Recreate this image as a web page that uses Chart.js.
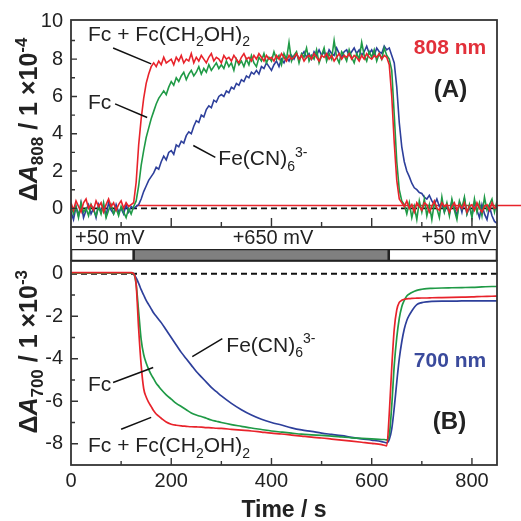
<!DOCTYPE html>
<html>
<head>
<meta charset="utf-8">
<script src="https://cdn.jsdelivr.net/npm/chart.js@4.4.1/dist/chart.umd.min.js"></script>
<style>
  body { margin: 0; background: #fff; }
  #wrap { position: relative; width: 521px; height: 521px; }
  #wrap canvas { position: absolute; left: 0; top: 0; }
</style>
</head>
<body>
<div id="wrap">
  <canvas id="cB" width="521" height="521"></canvas>
  <canvas id="cV" width="521" height="521"></canvas>
  <canvas id="cA" width="521" height="521"></canvas>
</div>
<script>
// ---- data: panel (A), 808 nm, time every 5 s ----
const tA = [
  0, 5, 10, 15, 20, 25, 30, 35, 40, 45,
  50, 55, 60, 65, 70, 75, 80, 85, 90, 95,
  100, 105, 110, 115, 120, 125, 130, 135, 140, 145,
  150, 155, 160, 165, 170, 175, 180, 185, 190, 195,
  200, 205, 210, 215, 220, 225, 230, 235, 240, 245,
  250, 255, 260, 265, 270, 275, 280, 285, 290, 295,
  300, 305, 310, 315, 320, 325, 330, 335, 340, 345,
  350, 355, 360, 365, 370, 375, 380, 385, 390, 395,
  400, 405, 410, 415, 420, 425, 430, 435, 440, 445,
  450, 455, 460, 465, 470, 475, 480, 485, 490, 495,
  500, 505, 510, 515, 520, 525, 530, 535, 540, 545,
  550, 555, 560, 565, 570, 575, 580, 585, 590, 595,
  600, 605, 610, 615, 620, 625, 630, 635, 640, 645,
  650, 655, 660, 665, 670, 675, 680, 685, 690, 695,
  700, 705, 710, 715, 720, 725, 730, 735, 740, 745,
  750, 755, 760, 765, 770, 775, 780, 785, 790, 795,
  800, 805, 810, 815, 820, 825, 830, 835, 840, 845,
  850
];
// Fc + Fc(CH2OH)2
const redA = [
  0.3, -0.1, 0.4, 0.1, -0.2, 0.3, 0.5, 0.0, 0.2, -0.1,
  0.4, 0.1, 0.3, -0.2, 0.2, 0.5, 0.1, 0.3, -0.1, 0.2,
  0.4, 0.0, 0.3, 0.1, 0.2, 0.3, 1.4, 3.4, 4.8, 5.9,
  6.7, 7.2, 7.6, 7.8, 7.6, 7.9, 7.7, 8.1, 7.8, 7.9,
  8.0, 7.7, 8.1, 7.9, 8.2, 7.8, 8.0, 7.9, 8.3, 7.8,
  8.1, 7.9, 8.2, 8.0, 7.8, 8.1, 8.3, 7.9, 8.1, 8.0,
  7.8, 8.2, 8.0, 8.1, 7.9, 8.2, 8.0, 7.8, 8.1, 8.3,
  8.0, 8.1, 7.9, 8.2, 8.0, 8.3, 8.1, 7.9, 8.2, 8.0,
  8.1, 7.9, 8.2, 8.0, 8.3, 8.1, 7.9, 8.2, 8.0, 8.1,
  8.3, 8.0, 8.2, 7.9, 8.1, 8.2, 8.0, 8.3, 8.1, 7.9,
  8.2, 8.1, 8.3, 8.0, 8.2, 7.9, 8.1, 8.3, 8.0, 8.2,
  8.1, 8.3, 8.0, 8.2, 8.1, 7.9, 8.2, 8.0, 8.3, 8.1,
  8.0, 8.2, 8.1, 8.3, 8.0, 8.2, 8.1, 7.7, 6.0, 3.5,
  1.5, 0.5, 0.3, 0.1, 0.4, 0.0, 0.2, -0.2, 0.3, 0.1,
  -0.1, 0.3, 0.2, -0.2, 0.1, 0.4, 0.0, -0.1, 0.3, 0.1,
  0.2, -0.2, 0.1, 0.3, -0.1, 0.2, 0.0, 0.3, -0.2, 0.1,
  0.2, -0.1, 0.3, 0.0, -0.2, 0.1, 0.2, -0.1, 0.3, 0.0,
  0.1
];
// Fc
const greenA = [
  0.2, -0.3, 0.1, -0.5, 0.3, -0.2, 0.0, -0.4, 0.2, -0.1,
  -0.4, 0.1, -0.3, 0.3, -0.5, -0.1, 0.2, -0.3, 0.0, -0.4,
  0.1, -0.2, -0.5, 0.0, -0.3, 0.1, 0.4, 1.2, 2.3, 3.1,
  3.8, 4.3, 4.8, 5.2, 5.6, 5.9, 6.1, 6.3, 6.1, 6.5,
  6.8, 6.6, 7.0, 6.8, 7.1, 7.3, 6.9, 7.2, 7.4, 7.1,
  7.3, 7.6, 7.2, 7.5, 7.3, 7.7, 7.4, 7.6, 7.8, 7.5,
  7.7, 7.5, 7.9, 7.6, 7.8, 7.4, 8.0, 7.7, 7.9, 7.6,
  8.0, 7.7, 8.2, 7.8, 7.6, 8.1, 7.9, 8.3, 7.8, 8.1,
  7.9, 8.4, 8.0, 8.2, 7.7, 8.3, 8.0, 8.9, 7.9, 8.2,
  8.4, 7.8, 8.3, 8.1, 8.6, 7.9, 8.2, 8.0, 8.5, 7.8,
  8.2, 8.6, 7.9, 8.3, 8.0, 9.0, 8.1, 7.8, 8.4, 8.2,
  7.9, 8.5, 8.1, 7.8, 8.3, 8.0, 8.9, 8.2, 7.9, 8.4,
  8.1, 8.5, 7.9, 8.3, 8.0, 8.6, 8.2, 8.0, 7.4, 5.0,
  2.5, 1.0, 0.4, 0.2, -0.3, 0.3, -0.5, 0.1, -0.6, 0.4,
  -0.2, 0.5, -0.4, 0.2, -0.6, 0.3, 0.0, -0.5, 0.6, -0.2,
  0.3, -0.4, 0.5, -0.1, -0.6, 0.4, 0.0, 0.6, -0.3, 0.2,
  -0.5, 0.5, -0.2, 0.3, -0.4, 0.6, -0.1, 0.2, 0.5, -0.2,
  0.4
];
// Fe(CN)6 3-
const blueA = [
  -0.2, -0.6, 0.1, -0.4, 0.3, -0.5, -0.1, 0.2, -0.3, 0.0,
  -0.5, 0.2, -0.2, 0.1, -0.4, 0.3, -0.1, -0.3, 0.2, -0.2,
  0.0, -0.3, 0.2, -0.2, 0.1, 0.0, 0.1, 0.2, 0.5, 0.9,
  1.2, 1.5, 1.7, 1.9, 2.2, 2.1, 2.5, 2.8, 2.6, 3.0,
  3.1, 2.9, 3.4, 3.3, 3.6, 3.5, 3.9, 4.1, 4.0, 4.4,
  4.7, 4.6, 5.0, 4.9, 5.3, 5.5, 5.4, 5.8, 5.7, 6.0,
  6.1, 6.0, 6.3, 6.2, 6.5, 6.4, 6.7, 6.6, 6.9, 6.8,
  7.1, 7.0, 7.3, 7.2, 7.4, 7.2, 7.6, 7.5, 7.8, 7.6,
  7.4, 7.7, 7.9, 7.6, 8.0, 7.8, 8.1, 7.9, 8.2, 8.0,
  8.3, 8.0, 8.2, 8.4, 8.1, 8.3, 8.0, 8.4, 8.2, 8.5,
  8.2, 8.4, 8.1, 8.5, 8.3, 8.2, 8.6, 8.3, 8.1, 8.4,
  8.5, 8.2, 8.4, 8.6, 8.3, 8.5, 8.2, 8.4, 8.7, 8.3,
  8.5, 8.2, 8.6, 8.4, 8.3, 8.7, 8.5, 8.6, 8.2, 7.8,
  6.5, 4.6, 3.3, 2.5, 2.0, 1.7, 1.35, 1.1, 1.0, 0.85,
  0.8, 0.6, 0.5, 0.7, 0.4, 0.2, 0.5, 0.1, 0.3, -0.2,
  0.2, -0.3, 0.4, 0.0, -0.4, 0.3, -0.2, 0.5, -0.3, 0.1,
  -0.4, 0.3, -0.1, -0.5, 0.2, -0.3, -0.6, 0.1, -0.4, -0.7,
  -0.8
];
// reference lines in (A)
const zeroT = [0, 850];
const zeroV = [0, 0];
const baseT = [130, 900];
const baseV = [0.15, 0.15];

// ---- data: panel (B), 700 nm ----
const tB = [
  0, 20, 40, 60, 80, 100, 115, 120,
  125, 130, 135, 140, 145, 150, 155, 160, 165, 170, 175, 180,
  190, 200, 210, 220, 230, 240, 250, 260, 270, 280, 290, 300,
  320, 340, 360, 380, 400, 420, 440, 460, 480, 500, 520, 540, 560, 580, 600, 620,
  625, 630, 635, 640, 645, 650, 655, 660, 665, 670, 675, 680,
  690, 700, 710, 720,
  740, 760, 780, 800, 820, 840, 850
];
const redB = [
  0.05, 0.05, 0.05, 0.05, 0.05, 0.05, 0.05, 0.05,
  0.0, -0.5, -2.6, -4.3, -5.4, -5.8, -6.05, -6.25, -6.45, -6.6, -6.7, -6.8,
  -6.98, -7.08, -7.13, -7.16, -7.18, -7.2, -7.21, -7.22, -7.24, -7.25, -7.27, -7.28,
  -7.32, -7.36, -7.4, -7.45, -7.5, -7.54, -7.59, -7.64, -7.69, -7.73, -7.78, -7.83, -7.88, -7.93, -7.98, -8.04,
  -8.07, -8.1, -6.6, -4.4, -2.6, -1.7, -1.35, -1.25, -1.2, -1.18, -1.17, -1.16,
  -1.15, -1.14, -1.14, -1.13,
  -1.12, -1.11, -1.1, -1.09, -1.07, -1.06, -1.05
];
const greenB = [
  0.03, 0.03, 0.03, 0.03, 0.03, 0.03, 0.03, 0.03,
  0.0, -0.5, -1.8, -3.1, -3.8, -4.2, -4.5, -4.75, -4.95, -5.15, -5.3, -5.45,
  -5.7, -5.9, -6.1, -6.25, -6.4, -6.55, -6.65, -6.72, -6.8, -6.88, -6.94, -7.0,
  -7.1, -7.18, -7.26, -7.33, -7.4, -7.45, -7.5, -7.55, -7.58, -7.61, -7.64, -7.68, -7.72, -7.75, -7.77, -7.8,
  -7.8, -7.82, -7.6, -6.2, -4.3, -3.0, -2.1, -1.55, -1.25, -1.05, -0.95, -0.88,
  -0.78, -0.73, -0.7, -0.69,
  -0.67, -0.66, -0.65, -0.64, -0.62, -0.6, -0.6
];
const blueB = [
  0.03, 0.03, 0.03, 0.03, 0.03, 0.03, 0.03, 0.03,
  0.0, -0.2, -0.45, -0.75, -1.0, -1.25, -1.45, -1.65, -1.85, -2.0, -2.15, -2.3,
  -2.65, -3.0, -3.35, -3.7, -4.0, -4.3, -4.6, -4.85, -5.1, -5.35, -5.55, -5.75,
  -6.1, -6.4, -6.65, -6.85, -7.0, -7.12, -7.25, -7.35, -7.42, -7.5, -7.56, -7.62, -7.7, -7.77, -7.83, -7.9,
  -7.93, -7.96, -7.8, -7.3, -6.3, -5.1, -4.0, -3.2, -2.6, -2.2, -1.95, -1.75,
  -1.45, -1.36, -1.32, -1.3,
  -1.29, -1.29, -1.28, -1.28, -1.28, -1.28, -1.28
];

// ---- potential steps ----
const voltStart = [0, 125, 634];
const voltEnd = [125, 634, 850];
const voltColor = ['#ffffff', '#808080', '#ffffff'];
const voltLabels = ['+50 mV', '+650 mV', '+50 mV'];
const voltLabelT = [8, 403, 838];
const voltAlign = ['left', 'center', 'right'];

// ---- ticks ----
const yTicksA = [0, 2, 4, 6, 8, 10];
const yTicksB = [0, -2, -4, -6, -8];
const xTicksB = [0, 200, 400, 600, 800];
const xMarks = [100, 200, 300, 400, 500, 600, 700, 800];
const yMarksA = [0, 1, 2, 3, 4, 5, 6, 7, 8, 9];
const yMarksB = [-1, -2, -3, -4, -5, -6, -7, -8];

const FAMILY = "'Liberation Sans', Arial, Helvetica, sans-serif";
const RED = '#e8232b', GREEN = '#1f9a46', BLUE = '#2d3f9b';
const INK = '#222';

Chart.defaults.font.family = FAMILY;
Chart.defaults.color = INK;

const pts = (ts, vs) => ts.map((t, i) => ({ x: t, y: vs[i] }));

// text with subscripts / superscripts
function segFont(kind, size, weight) {
  const small = kind === 'sub' || kind === 'sup';
  const sz = small ? Math.round(size * 0.68) : size;
  return {
    font: (kind === 'i' ? 'italic ' : '') + weight + ' ' + sz + 'px ' + FAMILY,
    dy: kind === 'sub' ? size * 0.25 : kind === 'sup' ? -size * 0.42 : 0
  };
}
function richWidth(ctx, segs, size, weight) {
  let w = 0;
  segs.forEach(([s, k]) => { ctx.font = segFont(k, size, weight).font; w += ctx.measureText(s).width; });
  return w;
}
function drawRich(ctx, segs, x, y, size, weight, color) {
  ctx.fillStyle = color;
  ctx.textBaseline = 'alphabetic';
  ctx.textAlign = 'left';
  segs.forEach(([s, k]) => {
    const f = segFont(k, size, weight);
    ctx.font = f.font;
    ctx.fillText(s, x, y + f.dy);
    x += ctx.measureText(s).width;
  });
}

// frame, inner ticks, labels, leader lines, y title
function framePlugin(cfg) {
  return {
    id: 'frame',
    afterDraw(chart) {
      const { ctx, chartArea: a } = chart;
      const x = chart.scales.x, y = chart.scales.y;
      ctx.save();
      ctx.strokeStyle = '#333';
      ctx.lineWidth = 1.4;
      ctx.beginPath();
      xMarks.forEach(t => {
        const px = x.getPixelForValue(t);
        const len = t % 200 === 0 ? cfg.xMajor : cfg.xMinor;
        ctx.moveTo(px, a.bottom); ctx.lineTo(px, a.bottom - len);
      });
      cfg.yMarks.forEach(v => {
        const py = y.getPixelForValue(v);
        const len = v % 2 === 0 ? cfg.yMajor : cfg.yMinor;
        ctx.moveTo(a.left, py); ctx.lineTo(a.left + len, py);
      });
      ctx.stroke();
      ctx.lineWidth = 1.8;
      ctx.strokeRect(a.left, a.top, a.right - a.left, a.bottom - a.top);

      ctx.strokeStyle = '#111';
      ctx.lineWidth = 1.5;
      ctx.beginPath();
      cfg.leaders.forEach(l => {
        ctx.moveTo(x.getPixelForValue(l[0]), y.getPixelForValue(l[1]));
        ctx.lineTo(x.getPixelForValue(l[2]), y.getPixelForValue(l[3]));
      });
      ctx.stroke();

      cfg.labels.forEach(l => {
        drawRich(ctx, l.segs, x.getPixelForValue(l.t), y.getPixelForValue(l.v),
          l.size, l.weight || 'normal', l.color || INK);
      });

      const ty = cfg.title;
      const w = richWidth(ctx, ty.segs, ty.size, 'bold');
      ctx.translate(a.left - ty.dx, a.top + ty.frac * (a.bottom - a.top));
      ctx.rotate(-Math.PI / 2);
      drawRich(ctx, ty.segs, -w / 2, ty.size * 0.36, ty.size, 'bold', INK);
      ctx.restore();
    }
  };
}

const frameA = {
  xMajor: 9, xMinor: 5, yMajor: 6, yMinor: 4, yMarks: yMarksA,
  leaders: [[84, 8.6, 160, 7.75], [88, 5.6, 152, 4.87], [244, 3.37, 288, 2.73]],
  labels: [
    { segs: [['Fc + Fc(CH', ''], ['2', 'sub'], ['OH)', ''], ['2', 'sub']], t: 34, v: 9.0, size: 21 },
    { segs: [['Fc', '']], t: 34, v: 5.35, size: 21 },
    { segs: [['Fe(CN)', ''], ['6', 'sub'], ['3-', 'sup']], t: 294, v: 2.3, size: 21 },
    { segs: [['808 nm', '']], t: 684, v: 8.3, size: 21, weight: 'bold', color: '#e2303a' },
    { segs: [['(A)', '']], t: 724, v: 5.95, size: 24, weight: 'bold' }
  ],
  title: { segs: [['\u0394', ''], ['A', 'i'], ['808', 'sub'], [' / 1 \u00d710', ''], ['-4', 'sup']], size: 25, dx: 43, frac: 0.48 }
};
const frameB = {
  xMajor: 7, xMinor: 4, yMajor: 7, yMinor: 4, yMarks: yMarksB,
  leaders: [[242, -3.9, 302, -3.05], [84, -5.12, 164, -4.41], [100, -7.32, 160, -6.76]],
  labels: [
    { segs: [['Fe(CN)', ''], ['6', 'sub'], ['3-', 'sup']], t: 310, v: -3.68, size: 21 },
    { segs: [['Fc', '']], t: 34, v: -5.54, size: 21 },
    { segs: [['Fc + Fc(CH', ''], ['2', 'sub'], ['OH)', ''], ['2', 'sub']], t: 34, v: -8.4, size: 21 },
    { segs: [['700 nm', '']], t: 684, v: -4.37, size: 21, weight: 'bold', color: '#3a4a9c' },
    { segs: [['(B)', '']], t: 722, v: -7.32, size: 24, weight: 'bold' }
  ],
  title: { segs: [['\u0394', ''], ['A', 'i'], ['700', 'sub'], [' / 1 \u00d710', ''], ['-3', 'sup']], size: 25, dx: 43, frac: 0.445 }
};

const common = {
  responsive: false,
  animation: false,
  devicePixelRatio: 1,
  events: [],
  elements: { point: { radius: 0 } },
  plugins: { legend: { display: false }, tooltip: { enabled: false } }
};

const yAxis = (min, max, ticks) => ({
  min, max,
  afterFit: s => { s.width = 71; },
  afterBuildTicks: s => { s.ticks = ticks.map(v => ({ value: v })); },
  grid: { display: false, drawTicks: false },
  border: { display: false },
  ticks: { padding: 8, font: { size: 20 }, color: INK }
});

// (A) 808 nm
new Chart(document.getElementById('cA'), {
  type: 'line',
  data: {
    datasets: [
      { data: pts(tA, redA), borderColor: RED, borderWidth: 1.6, tension: 0 },
      { data: pts(tA, greenA), borderColor: GREEN, borderWidth: 1.6, tension: 0 },
      { data: pts(tA, blueA), borderColor: BLUE, borderWidth: 1.6, tension: 0 },
      { data: pts(baseT, baseV), borderColor: RED, borderWidth: 1.4, clip: false },
      { data: pts(zeroT, zeroV), borderColor: '#111', borderWidth: 1.8, borderDash: [6, 4] }
    ]
  },
  options: Object.assign({}, common, {
    layout: { padding: { top: 20, bottom: 294, left: 0, right: 24 } },
    scales: {
      x: { type: 'linear', min: 0, max: 850, display: false },
      y: yAxis(-1, 10.1, yTicksA)
    }
  }),
  plugins: [framePlugin(frameA)]
});

// potential step bar
new Chart(document.getElementById('cV'), {
  type: 'bar',
  data: {
    labels: ['E'],
    datasets: voltStart.map((s, i) => ({
      data: [[s, voltEnd[i]]],
      backgroundColor: voltColor[i],
      borderColor: '#222',
      borderWidth: 1.6,
      borderSkipped: false,
      grouped: false,
      barPercentage: 1,
      categoryPercentage: 1
    }))
  },
  options: Object.assign({}, common, {
    indexAxis: 'y',
    layout: { padding: { top: 249, bottom: 260, left: 71, right: 24 } },
    scales: {
      x: { type: 'linear', min: 0, max: 850, display: false },
      y: { display: false }
    }
  }),
  plugins: [{
    id: 'volt',
    afterDraw(chart) {
      const { ctx, chartArea: a } = chart;
      const x = chart.scales.x;
      ctx.save();
      ctx.strokeStyle = '#333';
      ctx.lineWidth = 1.8;
      ctx.beginPath();
      ctx.moveTo(a.left, a.top - 22); ctx.lineTo(a.left, a.bottom);
      ctx.moveTo(a.right, a.top - 22); ctx.lineTo(a.right, a.bottom);
      ctx.stroke();
      ctx.font = '20px ' + FAMILY;
      ctx.fillStyle = INK;
      ctx.textBaseline = 'middle';
      voltLabels.forEach((s, i) => {
        ctx.textAlign = voltAlign[i];
        ctx.fillText(s, x.getPixelForValue(voltLabelT[i]), a.top - 11);
      });
      ctx.restore();
    }
  }]
});

// (B) 700 nm
new Chart(document.getElementById('cB'), {
  type: 'line',
  data: {
    datasets: [
      { data: pts(tB, redB), borderColor: RED, borderWidth: 1.7, cubicInterpolationMode: 'monotone' },
      { data: pts(tB, greenB), borderColor: GREEN, borderWidth: 1.7, cubicInterpolationMode: 'monotone' },
      { data: pts(tB, blueB), borderColor: BLUE, borderWidth: 1.7, cubicInterpolationMode: 'monotone' },
      { data: pts(zeroT, zeroV), borderColor: '#111', borderWidth: 1.8, borderDash: [6, 4] }
    ]
  },
  options: Object.assign({}, common, {
    layout: { padding: { top: 261, bottom: 0, left: 0, right: 24 } },
    scales: {
      x: {
        type: 'linear', min: 0, max: 850,
        afterFit: s => { s.height = 56; },
        afterBuildTicks: s => { s.ticks = xTicksB.map(v => ({ value: v })); },
        grid: { display: false, drawTicks: false },
        border: { display: false },
        ticks: { padding: 4, font: { size: 20 }, color: INK, maxRotation: 0 },
        title: { display: true, text: 'Time / s', font: { size: 23, weight: 'bold' }, color: INK, padding: { top: 0, bottom: -3 } }
      },
      y: yAxis(-9, 0.6, yTicksB)
    }
  }),
  plugins: [framePlugin(frameB)]
});
</script>
</body>
</html>
